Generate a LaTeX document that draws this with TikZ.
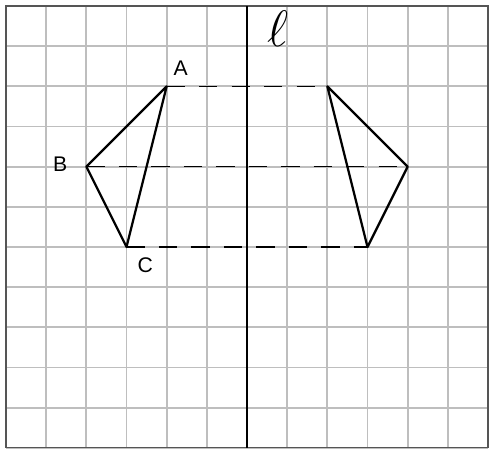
\documentclass[tikz,border=0pt]{standalone}
\usepackage{fontspec}
\setsansfont{Liberation Sans}
\usepackage{tikz}
\usetikzlibrary{calc}
\definecolor{grGrid}{HTML}{BEBEBE}
\definecolor{grFrame}{HTML}{555555}
\tikzset{
    grLine/.style={draw=grGrid,line width=1.3pt},
    grAxis/.style={draw=black,line width=1.0pt},
    grEdge/.style={draw=black,line width=1.6pt,line join=round},
    grDash/.style={draw=black,line width=1.1pt,dash pattern=on 13pt off 10pt},
    grLabel/.style={font=\sffamily\fontsize{15}{18}\selectfont,inner sep=0pt}
}
\begin{document}
\begin{tikzpicture}
        \useasboundingbox (-0.15,-0.075) rectangle (12.075,11.15);
        \fill[white] (-0.15,-0.075) rectangle (12.075,11.15);

        % grid
        \draw[grLine] (0,0) grid (12,11);
        \draw[draw=grFrame,line width=0.9pt] (0,0) rectangle (12,11);

        % mirror line
        \coordinate (lbot) at (6,0);
        \coordinate (ltop) at (6,11);
        \draw[grAxis] (lbot) -- (ltop);
        \node[font=\LARGE,scale=2.1,inner sep=0pt] (lname) at (6.77,10.43) {$\ell$};

        % triangle and its image
        \coordinate (A) at (4,9);
        \coordinate (B) at (2,7);
        \coordinate (C) at (3,5);
        \coordinate (A1) at (8,9);
        \coordinate (B1) at (10,7);
        \coordinate (C1) at (9,5);

        \draw[grDash] (A) -- (A1);
        \draw[grDash] (B) -- (B1);
        \draw[grDash] (C) -- (C1);

        \draw[grEdge] (A) -- (B) -- (C) -- cycle;
        \draw[grEdge] (A1) -- (B1) -- (C1) -- cycle;

        % labels
        \node[grLabel] (lA) at (4.35,9.45) {A};
        \node[grLabel] (lB) at (1.35,7.05) {B};
        \node[grLabel] (lC) at (3.47,4.55) {C};
    \end{tikzpicture}
\end{document}
